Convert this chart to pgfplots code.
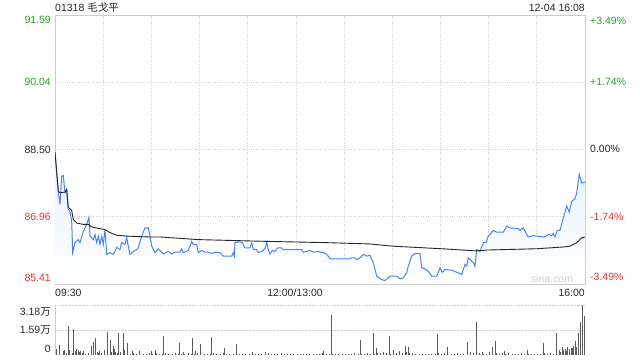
\documentclass[border=0pt]{standalone}
\usepackage{pgfplots}
\pgfplotsset{compat=1.18}
\usepackage{fontspec}
\setmainfont{Liberation Sans}
\newfontfamily\cjk{Noto Sans CJK SC}
\definecolor{gridgray}{RGB}{204,204,204}
\definecolor{dotgray}{RGB}{210,210,210}
\definecolor{linblue}{RGB}{72,134,238}
\definecolor{fillblue}{RGB}{232,240,253}
\definecolor{pgreen}{RGB}{36,168,36}
\definecolor{pred}{RGB}{240,48,48}
\definecolor{txt}{RGB}{40,40,40}
\definecolor{volgray}{RGB}{90,90,90}
\newcommand\lf{\fontsize{10.5bp}{12bp}\selectfont}
\pgfplotstableread{
m p
0 88.44
2.05 87.54
3.11 87.24
4.17 87.89
5.17 87.90
6.23 87.51
7.28 87.58
8.28 87.12
9.34 87.08
10.40 86.85
11.02 86.13
12.45 86.36
14.51 86.43
15.57 86.36
17.62 86.62
19.74 86.78
21.17 86.94
21.79 86.51
23.85 86.43
24.91 86.55
25.96 86.36
26.96 86.51
28.02 86.32
29.08 86.51
30.07 86.32
31.13 86.66
32.19 86.09
34.25 86.13
36.30 86.09
38.42 86.25
40.47 86.20
41.53 86.36
43.58 86.32
44.64 86.48
45.64 86.28
46.70 86.09
48.75 86.16
50.87 86.20
51.87 86.25
53.98 86.51
56.04 86.70
58.09 86.70
59.15 86.51
60.21 86.28
62.26 86.13
64.32 86.22
67.43 86.10
70.54 86.16
72.66 86.10
74.72 86.14
77.83 86.14
78.89 86.22
79.88 86.13
83.00 86.18
85.11 86.39
86.11 86.32
88.23 86.32
89.22 86.13
91.34 86.18
93.40 86.14
95.45 86.14
97.57 86.11
99.62 86.14
102.74 86.13
104.79 86.05
110.02 86.05
111.02 86.13
111.64 86.05
112.08 86.36
115.19 86.38
116.62 86.36
118.30 86.24
121.42 86.24
122.47 86.36
123.47 86.20
125.58 86.20
126.58 86.13
128.70 86.16
130.75 86.22
131.81 86.37
132.81 86.20
133.87 86.10
134.92 86.16
135.92 86.18
136.98 86.16
138.04 86.22
139.03 86.24
141.15 86.24
142.15 86.20
153.60 86.20
154.60 86.14
156.71 86.16
158.77 86.18
160.82 86.14
163.94 86.16
164.99 86.14
167.05 86.13
169.17 86.09
170.16 86.05
171.22 85.99
183.68 85.99
184.73 86.01
186.79 86.01
187.85 85.97
189.90 86.01
191.96 86.09
194.08 86.05
196.13 86.07
198.19 85.90
200.30 85.59
203.42 85.51
205.47 85.49
207.53 85.55
208.58 85.59
212.75 85.59
214.81 85.53
216.86 85.55
218.98 85.67
219.98 85.82
222.09 86.05
224.15 86.11
227.26 86.11
228.32 85.78
230.38 85.76
232.43 85.70
234.55 85.59
237.66 85.59
239.72 85.78
241.15 85.68
242.83 85.74
247.00 85.73
253.23 85.63
255.28 85.86
256.34 85.82
257.34 86.01
259.45 85.93
260.45 85.90
261.51 85.82
262.57 86.20
264.62 86.16
266.68 86.36
268.36 86.36
269.79 86.51
270.85 86.55
272.90 86.64
275.02 86.60
279.13 86.60
281.24 86.74
283.30 86.70
288.47 86.68
289.53 86.64
291.58 86.70
293.70 86.55
294.69 86.49
297.81 86.52
305.09 86.49
307.15 86.55
309.26 86.52
310.26 86.57
311.32 86.49
312.75 86.64
314.43 86.64
316.49 86.93
318.60 87.20
320.22 87.06
321.72 87.31
323.77 87.37
324.83 87.50
326.45 87.93
327.94 87.73
330 87.75
}\price
\pgfplotstableread{
m p
0 88.44
2.05 87.54
3.11 87.51
6.23 87.52
7.28 87.58
8.28 87.17
10.40 87.10
11.39 86.89
13.51 86.81
17.62 86.78
20.73 86.78
22.85 86.72
28.02 86.68
31.13 86.66
34.25 86.59
38.42 86.53
44.64 86.51
59.15 86.49
65.38 86.49
89.22 86.43
130.75 86.39
169.17 86.36
196.13 86.33
209.64 86.28
240.77 86.22
262.57 86.17
268.79 86.19
299.92 86.22
316.49 86.26
320.66 86.28
324.83 86.36
327.94 86.47
330 86.49
}\avgp
\pgfplotstableread{
m v
2.7 0.64
6.2 0.30
8.3 1.84
11.4 1.63
13.1 0.36
14.5 0.30
15.6 0.27
17.6 0.27
22.8 0.57
24.3 0.85
25.3 1.06
26.3 0.20
28.0 0.25
31.1 0.30
32.8 1.44
34.7 0.95
36.3 0.57
38.0 0.20
39.4 1.40
42.5 1.40
43.4 0.30
45.0 0.78
48.4 0.25
52.5 0.25
60.2 0.25
62.9 0.30
67.6 1.21
77.4 0.78
79.9 0.20
85.6 1.10
87.6 0.25
90.7 0.70
97.6 1.16
98.6 0.10
105.4 0.43
113.0 0.70
123.1 0.20
131.4 0.20
167.5 0.27
172.3 2.54
190.5 0.95
198.8 1.42
200.7 0.42
208.6 1.21
218.5 0.57
220.6 0.53
238.6 1.34
244.9 0.53
257.0 0.85
262.9 2.12
266.7 0.20
270.8 0.20
272.9 0.53
274.6 0.89
280.2 0.25
290.6 0.15
294.7 0.30
304.5 0.78
312.7 1.38
314.9 0.30
316.5 0.53
318.1 0.40
319.6 0.53
320.7 0.35
321.9 0.45
323.1 0.59
324.4 0.91
326.4 1.38
327.9 2.12
328.9 3.18
330 2.48
}\volbig
\pgfplotstableread{
m v
1 0.35
3 0.10
5 0.28
7 0.15
9 0.30
11 0.12
13 0.25
15 0.18
17 0.10
19 0.08
21 0.12
23 0.20
25 0.35
27 0.15
29 0.10
31 0.22
33 0.30
35 0.18
37 0.40
39 0.12
41 0.20
43 0.10
45 0.15
47 0.08
49 0.12
51 0.06
53 0.10
55 0.05
57 0.08
59 0.12
61 0.06
63 0.10
65 0.05
67 0.08
69 0.12
71 0.05
73 0.06
75 0.15
77 0.08
79 0.05
81 0.06
83 0.10
85 0.05
87 0.08
89 0.12
91 0.06
93 0.05
95 0.07
97 0.05
99 0.08
101 0.05
103 0.06
105 0.10
107 0.05
109 0.04
111 0.06
113 0.08
115 0.05
117 0.04
119 0.06
121 0.05
123 0.15
125 0.05
127 0.08
129 0.06
131 0.12
133 0.10
135 0.06
137 0.08
139 0.05
141 0.10
143 0.06
145 0.04
147 0.05
149 0.05
151 0.06
153 0.04
155 0.05
157 0.06
159 0.05
161 0.08
163 0.06
165 0.05
167 0.12
169 0.06
171 0.05
173 0.04
175 0.05
177 0.04
179 0.06
181 0.05
183 0.08
185 0.05
187 0.10
189 0.06
191 0.05
193 0.08
195 0.12
197 0.06
199 0.05
201 0.10
203 0.15
205 0.20
207 0.12
209 0.08
211 0.30
213 0.15
215 0.25
217 0.12
219 0.18
221 0.10
223 0.12
225 0.08
227 0.05
229 0.06
231 0.05
233 0.08
235 0.06
237 0.05
239 0.10
241 0.05
243 0.12
245 0.06
247 0.05
249 0.08
251 0.10
253 0.06
255 0.05
257 0.08
259 0.20
261 0.12
263 0.08
265 0.10
267 0.06
269 0.05
271 0.08
273 0.15
275 0.10
277 0.05
279 0.12
281 0.08
283 0.10
285 0.06
287 0.05
289 0.08
291 0.05
293 0.06
295 0.08
297 0.05
299 0.06
301 0.05
303 0.08
305 0.10
307 0.05
309 0.12
311 0.08
313 0.15
315 0.20
317 0.30
319 0.25
321 0.30
323 0.45
325 0.50
}\volsmall
\begin{document}
\begin{tikzpicture}
\tikzset{lab/.style={font=\lf, inner sep=0pt, text height=7.5bp, text depth=0pt}}
\path[use as bounding box, fill=white] (0bp,0bp) rectangle (640bp,360bp);
\begin{axis}[
  at={(55bp,76bp)}, anchor=south west,
  width=530bp, height=269bp, scale only axis,
  xmin=0, xmax=330, ymin=85.41, ymax=91.59,
  axis line style={draw=gridgray, line width=0.8bp},
  xtick={0,30,...,330}, ytick={85.41,86.96,88.50,90.04,91.59},
  xticklabels={}, yticklabels={},
  major tick length=0pt,
  grid=major, major grid style={dotted, draw=dotgray, line width=0.8bp},
]
\addplot[draw=none, top color=fillblue, bottom color=white] table[x=m,y=p] {\price} -- (axis cs:330,85.41) -- (axis cs:0,85.41) -- cycle;
\addplot[draw=linblue, line width=1bp] table[x=m,y=p] {\price};
\addplot[draw=black!85, line width=0.9bp] table[x=m,y=p] {\avgp};
\end{axis}
\begin{axis}[
  at={(55bp,5bp)}, anchor=south west,
  width=530bp, height=50bp, scale only axis,
  xmin=0, xmax=330.5, ymin=0, ymax=3.18,
  axis line style={draw=none},
  xtick=\empty, ytick={1.59,3.18}, yticklabels={},
  major tick length=0pt,
  ymajorgrids, major grid style={densely dotted, draw=dotgray, line width=0.9bp},
]
\addplot[ycomb, draw=volgray, line width=1bp, mark=none] table[x=m,y=v] {\volsmall};
\addplot[ycomb, draw=volgray, line width=1bp, mark=none] table[x=m,y=v] {\volbig};
\end{axis}
\draw[gridgray, line width=0.8bp] (55bp,5bp) -- (55bp,55bp);
% title and date
\node[lab, anchor=west, text=txt] at (55bp,352.7bp) {01318 {\cjk 毛戈平}};
\node[lab, anchor=east, text=txt] at (585bp,352.2bp) {12-04 16:08};
% left price labels
\node[lab, anchor=east, text=pgreen] at (51bp,340bp) {91.59};
\node[lab, anchor=east, text=pgreen] at (51bp,278bp) {90.04};
\node[lab, anchor=east, text=txt] at (51bp,210.7bp) {88.50};
\node[lab, anchor=east, text=pred] at (51bp,143bp) {86.96};
\node[lab, anchor=east, text=pred] at (51bp,82.3bp) {85.41};
% right percent labels
\node[lab, anchor=west, text=pgreen] at (590bp,339.5bp) {+3.49\%};
\node[lab, anchor=west, text=pgreen] at (590bp,278bp) {+1.74\%};
\node[lab, anchor=west, text=txt] at (590bp,211bp) {0.00\%};
\node[lab, anchor=west, text=pred] at (590bp,143bp) {-1.74\%};
\node[lab, anchor=west, text=pred] at (590bp,83bp) {-3.49\%};
% time labels
\node[lab, anchor=west, text=txt] at (55bp,67bp) {09:30};
\node[lab, anchor=center, text=txt] at (295bp,67bp) {12:00/13:00};
\node[lab, anchor=east, text=txt] at (585bp,67bp) {16:00};
% watermark
\node[lab, anchor=center, text=black!18] at (552bp,81bp) {sina.com};
% volume labels
\node[lab, anchor=east, text=txt] at (51bp,48.3bp) {3.18{\cjk 万}};
\node[lab, anchor=east, text=txt] at (51bp,30bp) {1.59{\cjk 万}};
\node[lab, anchor=east, text=txt] at (51bp,11.7bp) {0};
\end{tikzpicture}
\end{document}
